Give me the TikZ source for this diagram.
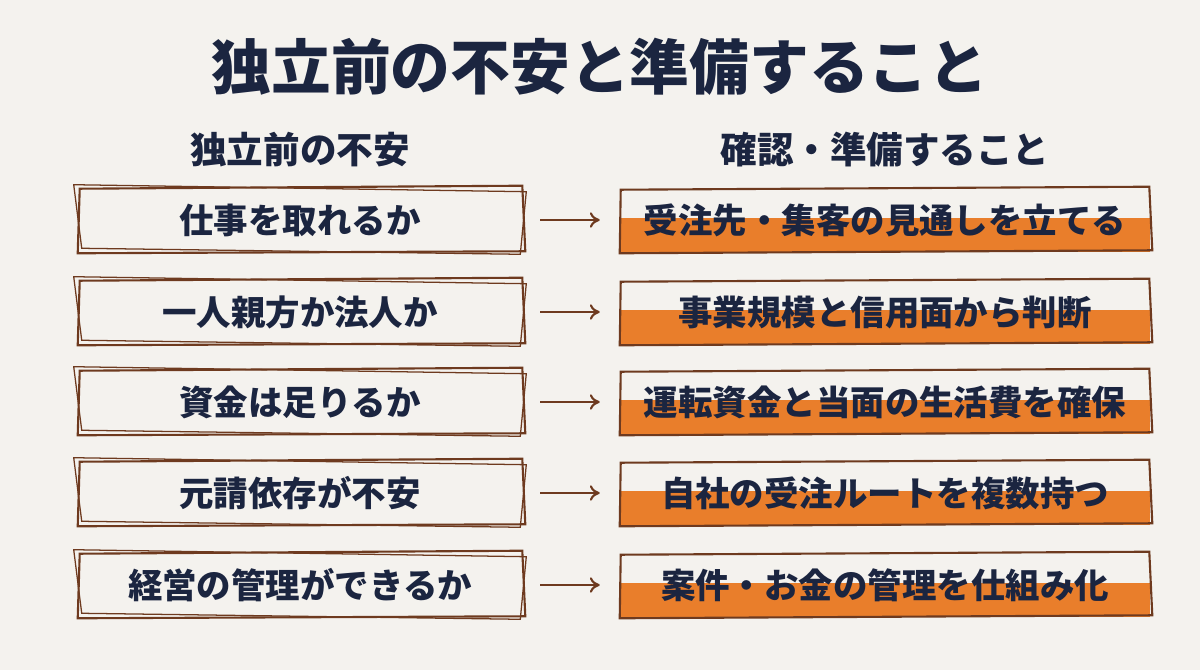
\documentclass[tikz,border=0pt]{standalone}
\usepackage{fontspec}
\newfontfamily\cjk{Noto Sans CJK JP}
\usetikzlibrary{calc}
\definecolor{bgc}{HTML}{F4F2EE}
\definecolor{inkc}{HTML}{1B2540}
\definecolor{brownc}{HTML}{6E3A1F}
\definecolor{orangec}{HTML}{E97E2B}
\tikzset{
  worry/.style={minimum width=444*0.025cm,minimum height=62*0.025cm,
    font=\cjk\bfseries\fontsize{24.5}{28}\selectfont,text=inkc},
  todo/.style={minimum width=530*0.025cm,minimum height=62*0.025cm,
    font=\cjk\bfseries\fontsize{24.5}{28}\selectfont,text=inkc},
  sketch/.style={draw=brownc,line width=1.5pt},
  go/.style={-{To[length=7pt,width=11pt]},brownc,line width=1.5pt}
}
\usetikzlibrary{arrows.meta}
\begin{document}
\begin{tikzpicture}[x=0.025cm,y=0.025cm]
          \fill[bgc] (0,0) rectangle (1200,670);
          \node[font=\cjk\bfseries\fontsize{42.5}{48}\selectfont,text=inkc] (title) at (600,603) {独立前の不安と準備すること};
          \node[font=\cjk\bfseries\fontsize{26}{30}\selectfont,text=inkc] (hl) at (300,520) {独立前の不安};
          \node[font=\cjk\bfseries\fontsize{26}{30}\selectfont,text=inkc] (hr) at (885,520) {確認・準備すること};
          \foreach \i/\l/\r/\y in {1/仕事を取れるか/受注先・集客の見通しを立てる/450,
            2/一人親方か法人か/事業規模と信用面から判断/358,
            3/資金は足りるか/運転資金と当面の生活費を確保/268,
            4/元請依存が不安/自社の受注ルートを複数持つ/177,
            5/経営の管理ができるか/案件・お金の管理を仕組み化/85}{
            % left: worry box, right: half-filled box
            \fill[orangec] (620,\y-32) rectangle (1150,\y+2);
            \node[worry] (w\i) at (300,\y) {\l};
            \node[todo] (t\i) at (885,\y) {\r};
            \draw[sketch] ($(w\i.south west)+(0,-2)$) -- ($(w\i.south east)+(3,0)$) -- ($(w\i.north east)+(0,3)$) -- ($(w\i.north west)+(2,0)$) -- cycle;
            \draw[sketch,line width=0.9pt] ($(w\i.south west)+(4,3)$) -- ($(w\i.south east)+(-2,-3)$) -- ($(w\i.north east)+(4,-3)$) -- ($(w\i.north west)+(-4,4)$) -- cycle;
            \draw[sketch] ($(t\i.south west)+(0,-2)$) -- ($(t\i.south east)+(2,1)$) -- ($(t\i.north east)+(-1,2)$) -- ($(t\i.north west)+(1,-1)$) -- cycle;
            \draw[go] ($(w\i.east)+(18,0)$) -- ($(t\i.west)+(-20,0)$);
          }
        \end{tikzpicture}
\end{document}
